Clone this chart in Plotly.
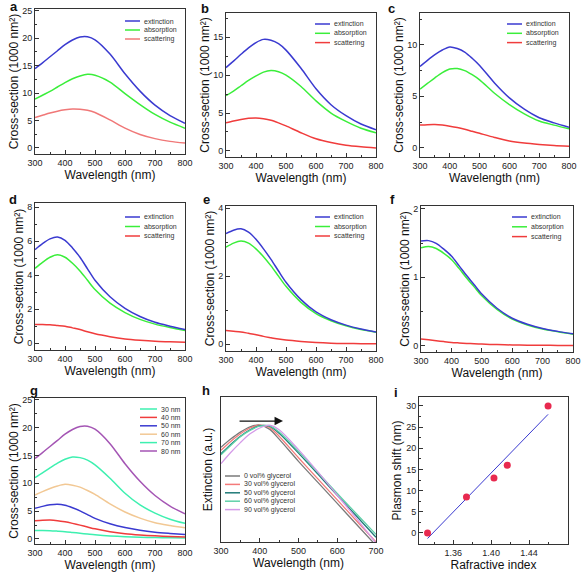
import plotly.graph_objects as go

W, H = 581, 577
FONT = "Liberation Sans, Arial, sans-serif"

# ---------------- data ----------------
wl = [300, 325, 350, 375, 400, 425, 450, 475, 500, 550, 600, 650, 700, 750, 800]
series_names = ["extinction", "absorption", "scattering"]

a_ext = [14.45, 15.5, 16.6, 17.7, 18.8, 19.65, 20.2, 20.25, 19.7, 17.1, 13.5, 10.35, 7.8, 5.9, 4.5]
a_abs = [8.9, 9.6, 10.3, 11.1, 11.9, 12.6, 13.1, 13.4, 13.25, 12.0, 9.9, 7.9, 6.1, 4.7, 3.6]
a_sca = [5.55, 5.95, 6.35, 6.7, 6.95, 7.1, 7.05, 6.85, 6.45, 5.1, 3.6, 2.45, 1.7, 1.2, 0.9]

b_ext = [11.0, 11.85, 12.75, 13.6, 14.3, 14.72, 14.6, 14.15, 13.3, 10.9, 8.2, 6.1, 4.65, 3.55, 2.8]
b_abs = [7.3, 7.9, 8.6, 9.3, 9.9, 10.4, 10.6, 10.45, 10.0, 8.5, 6.6, 5.0, 3.9, 3.0, 2.4]
b_sca = [3.7, 3.95, 4.15, 4.3, 4.35, 4.25, 4.05, 3.7, 3.3, 2.4, 1.6, 1.1, 0.75, 0.55, 0.4]

c_ext = [7.9, 8.5, 9.05, 9.5, 9.8, 9.65, 9.3, 8.7, 8.0, 6.3, 4.85, 3.75, 2.92, 2.42, 2.0]
c_abs = [5.7, 6.25, 6.8, 7.3, 7.65, 7.7, 7.5, 7.1, 6.6, 5.3, 4.2, 3.3, 2.6, 2.2, 1.85]
c_sca = [2.2, 2.24, 2.25, 2.2, 2.1, 1.97, 1.8, 1.6, 1.4, 1.0, 0.65, 0.45, 0.32, 0.22, 0.15]

d_ext = [5.5, 5.85, 6.13, 6.24, 6.05, 5.6, 5.05, 4.37, 3.7, 2.73, 2.05, 1.57, 1.23, 1.0, 0.8]
d_abs = [4.4, 4.75, 5.05, 5.2, 5.05, 4.7, 4.25, 3.7, 3.15, 2.35, 1.8, 1.4, 1.12, 0.92, 0.75]
d_sca = [1.1, 1.1, 1.08, 1.04, 1.0, 0.9, 0.8, 0.67, 0.55, 0.38, 0.25, 0.17, 0.11, 0.08, 0.05]

e_ext = [3.25, 3.35, 3.39, 3.29, 3.08, 2.8, 2.49, 2.15, 1.82, 1.31, 0.95, 0.72, 0.56, 0.445, 0.36]
e_abs = [2.85, 2.97, 3.03, 2.97, 2.8, 2.57, 2.3, 2.0, 1.7, 1.23, 0.9, 0.69, 0.54, 0.43, 0.35]
e_sca = [0.4, 0.38, 0.36, 0.32, 0.28, 0.23, 0.19, 0.15, 0.12, 0.08, 0.05, 0.03, 0.02, 0.015, 0.01]

f_ext = [1.53, 1.535, 1.495, 1.41, 1.31, 1.17, 1.025, 0.89, 0.755, 0.548, 0.403, 0.315, 0.253, 0.211, 0.175]
f_abs = [1.43, 1.45, 1.42, 1.35, 1.26, 1.13, 0.99, 0.86, 0.73, 0.53, 0.39, 0.305, 0.245, 0.205, 0.17]
f_sca = [0.1, 0.088, 0.075, 0.062, 0.05, 0.042, 0.035, 0.03, 0.025, 0.018, 0.013, 0.01, 0.008, 0.006, 0.005]

size_names = ["30 nm", "40 nm", "50 nm", "60 nm", "70 nm", "80 nm"]

wl_h = [300, 325, 350, 375, 400, 425, 450, 500, 550, 600, 650, 700]
glycerol_names = ["0 vol% glycerol", "30 vol% glycerol", "50 vol% glycerol",
                  "60 vol% glycerol", "90 vol% glycerol"]
h_0 = [0.81, 0.88, 0.94, 0.985, 1.0, 0.965, 0.88, 0.69, 0.51, 0.33, 0.15, -0.03]
h_30 = [0.785, 0.86, 0.925, 0.975, 1.0, 0.98, 0.905, 0.72, 0.54, 0.36, 0.18, 0.0]
h_50 = [0.755, 0.835, 0.905, 0.96, 0.995, 0.99, 0.93, 0.76, 0.58, 0.40, 0.22, 0.04]
h_60 = [0.745, 0.825, 0.9, 0.955, 0.99, 0.995, 0.94, 0.775, 0.595, 0.415, 0.24, 0.065]
h_90 = [0.67, 0.765, 0.85, 0.925, 0.975, 1.0, 0.96, 0.79, 0.60, 0.40, 0.2, -0.01]

ri = [1.333, 1.374, 1.403, 1.417, 1.460]
shift = [0, 8.5, 13, 16, 30]
fit_x = [1.333, 1.460]
fit_y = [-1.3, 28.0]
ri_ticks = [1.36, 1.40, 1.44]

panel_letters = ["a", "b", "c", "d", "e", "f", "g", "h", "i"]

# ---------------- styling ----------------
C_EXT, C_ABS, C_SCA = "#3a3ad0", "#3aee3a", "#f03c3c"
size_colors = ["#3ef0b0", "#f03c3c", "#3a3ad0", "#f2c894", "#3ef0b0", "#a455b4"]
gly_colors = ["#7a7a7a", "#f47a7a", "#1f7a78", "#5fd0a8", "#d49ae8"]

def X(px):
    return px / W

def Y(py):
    return 1 - py / H

# panel boxes in pixels: left, right, top, bottom
boxes = {
    1: (35, 185, 9, 154),
    2: (226, 376, 13, 157),
    3: (420, 569, 13, 157),
    4: (35, 185, 203, 350),
    5: (226, 376, 206, 351),
    6: (421, 573, 206, 352),
    7: (35, 185, 398, 544),
    8: (221, 376, 397, 542),
    9: (419, 568, 397, 544),
}
# panel-letter left/middle positions (pixels)
letter_pos = [(8, 6), (199, 9), (386, 9), (7, 199), (201, 200), (388, 199), (28, 390), (200, 390), (392, 392)]

fig = go.Figure()

def add_line(k, x, y, color, width=1.5):
    s = "" if k == 1 else str(k)
    fig.add_trace(go.Scatter(x=x, y=y, mode="lines", xaxis="x" + s, yaxis="y" + s,
                             line=dict(color=color, width=width, shape="spline", smoothing=0.8),
                             showlegend=False, hoverinfo="skip"))

panels = [
    (1, a_ext, a_abs, a_sca, "#f07878"),
    (2, b_ext, b_abs, b_sca, C_SCA),
    (3, c_ext, c_abs, c_sca, C_SCA),
    (4, d_ext, d_abs, d_sca, C_SCA),
    (5, e_ext, e_abs, e_sca, C_SCA),
    (6, f_ext, f_abs, f_sca, C_SCA),
]
for k, ext, ab, sc, csc in panels:
    add_line(k, wl, sc, csc)
    add_line(k, wl, ab, C_ABS)
    add_line(k, wl, ext, C_EXT)

g_series = [f_ext, e_ext, d_ext, c_ext, b_ext, a_ext]
for ys, col in zip(g_series, size_colors):
    add_line(7, wl, ys, col)

for ys, col in zip([h_0, h_30, h_50, h_60, h_90], gly_colors):
    add_line(8, wl_h, ys, col, width=1.3)

fig.add_trace(go.Scatter(x=fit_x, y=fit_y, mode="lines", xaxis="x9", yaxis="y9",
                         line=dict(color="#3a3ad0", width=1), showlegend=False))
fig.add_trace(go.Scatter(x=ri, y=shift, mode="markers", xaxis="x9", yaxis="y9",
                         marker=dict(color="#e8294f", size=7), showlegend=False))

# ---------------- axes ----------------
tickfont = dict(family=FONT, size=9, color="#222")
titlefont = dict(family=FONT, size=12, color="#111")
CS_TITLE = "Cross-section (1000 nm\u00b2)"

yranges = {
    1: ([-1.1, 25.3], 5), 2: ([-0.8, 18.2], 5), 3: ([-0.9, 13.1], 5),
    4: ([-0.4, 8.24], 2), 5: ([-0.2, 4.06], 2), 6: ([-0.09, 2.04], 1),
    7: ([-0.9, 25.3], 5), 8: ([0, 1.24], None), 9: ([-2.6, 32.1], 5),
}

layout = dict(width=W, height=H, margin=dict(l=0, r=0, t=0, b=0, autoexpand=False),
              paper_bgcolor="white", plot_bgcolor="white", showlegend=False)

for k, (l, r, t, b) in boxes.items():
    s = "" if k == 1 else str(k)
    common = dict(showline=True, mirror=True, linecolor="#333", linewidth=1,
                  showgrid=False, zeroline=False, ticks="inside", ticklen=4,
                  tickcolor="#333", tickfont=tickfont, automargin=False)
    if k == 9:
        xa = dict(domain=[X(l), X(r)], range=[1.324, 1.481], tickvals=ri_ticks,
                  tickformat=".2f",
                  minor=dict(ticks="inside", ticklen=2, tick0=1.34, dtick=0.02, tickcolor="#333"),
                  title=dict(text="Rafractive index", font=titlefont, standoff=0),
                  anchor="y" + s, **common)
    elif k == 8:
        xa = dict(domain=[X(l), X(r)], range=[300, 700], dtick=100,
                  minor=dict(ticks="inside", ticklen=2, dtick=50, tickcolor="#333"),
                  title=dict(text="Wavelength (nm)", font=titlefont, standoff=0),
                  anchor="y" + s, **common)
    else:
        xa = dict(domain=[X(l), X(r)], range=[300, 800], dtick=100,
                  minor=dict(ticks="inside", ticklen=2, dtick=50, tickcolor="#333"),
                  title=dict(text="Wavelength (nm)", font=titlefont, standoff=0),
                  anchor="y" + s, **common)
    yr, dt = yranges[k]
    if k == 8:
        ya = dict(domain=[Y(b), Y(t)], range=yr, showticklabels=False,
                  showline=True, mirror=True, linecolor="#333", linewidth=1,
                  showgrid=False, zeroline=False, ticks="", automargin=False,
                  title=dict(text="Extinction (a.u.)", font=titlefont, standoff=4),
                  anchor="x" + s)
    elif k == 9:
        ya = dict(domain=[Y(b), Y(t)], range=yr, dtick=dt,
                  minor=dict(ticks="inside", ticklen=2, dtick=dt / 2, tickcolor="#333"),
                  title=dict(text="Plasmon shift (nm)", font=titlefont, standoff=1),
                  anchor="x" + s, **common)
    else:
        ya = dict(domain=[Y(b), Y(t)], range=yr, dtick=dt,
                  minor=dict(ticks="inside", ticklen=2, dtick=dt / 2, tickcolor="#333"),
                  title=dict(text=CS_TITLE, font=titlefont, standoff=0),
                  anchor="x" + s, **common)
    layout["xaxis" + s] = xa
    layout["yaxis" + s] = ya

fig.update_layout(**layout)

# ---------------- manual legends ----------------
annotations = []
shapes = []

def legend(x0, y0, dy, names, colors, length=15):
    for i, (n, c) in enumerate(zip(names, colors)):
        yy = y0 + i * dy
        shapes.append(dict(type="line", xref="paper", yref="paper",
                           x0=X(x0), x1=X(x0 + length), y0=Y(yy), y1=Y(yy),
                           line=dict(color=c, width=1.5)))
        annotations.append(dict(text=n, xref="paper", yref="paper", x=X(x0 + length + 2), y=Y(yy),
                                xanchor="left", yanchor="middle", showarrow=False,
                                font=dict(family=FONT, size=7, color="#333")))

legend(125, 21, 9, series_names, [C_EXT, C_ABS, "#f07878"])
legend(315, 24, 9.3, series_names, [C_EXT, C_ABS, C_SCA])
legend(507, 24, 9.3, series_names, [C_EXT, C_ABS, C_SCA])
legend(125, 217, 9.5, series_names, [C_EXT, C_ABS, C_SCA])
legend(315, 217, 9.5, series_names, [C_EXT, C_ABS, C_SCA])
legend(512, 217, 9.8, series_names, [C_EXT, C_ABS, C_SCA])
legend(140, 409, 8.4, size_names, size_colors, length=17)
legend(225, 476, 8.4, glycerol_names, gly_colors)

# panel letters
for lab, (px, py) in zip(panel_letters, letter_pos):
    annotations.append(dict(text=lab, xref="paper", yref="paper", x=X(px), y=Y(py),
                            xanchor="left", yanchor="middle", showarrow=False,
                            font=dict(family=FONT, size=13, color="#111", weight="bold")))

# arrow in panel h
annotations.append(dict(x=460, y=1.034, ax=344, ay=1.034, xref="x8", yref="y8",
                        axref="x8", ayref="y8", text="", showarrow=True,
                        arrowhead=2, arrowsize=1.3, arrowwidth=1.3, arrowcolor="#111",
                        font=dict(family=FONT, size=10)))

fig.update_layout(annotations=annotations, shapes=shapes)
fig.write_html("out.html", config={"displayModeBar": False},
               post_script="document.body.style.margin='0';document.body.style.overflow='hidden';")
